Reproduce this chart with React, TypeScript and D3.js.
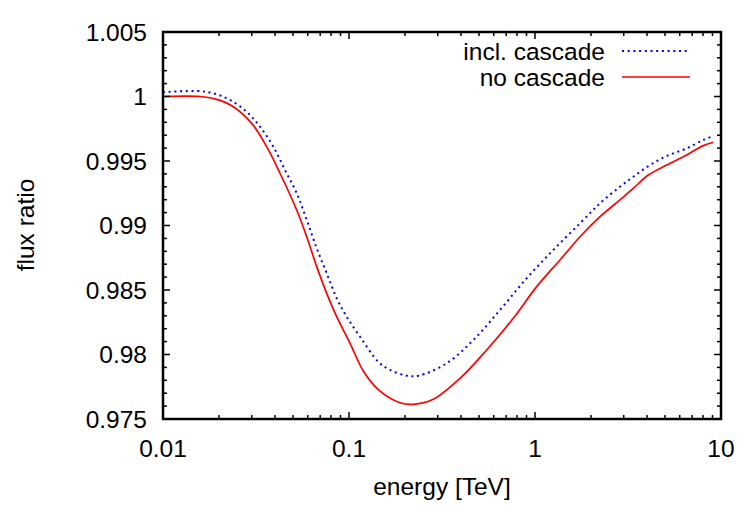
import * as d3 from 'd3';

// energy [TeV] and flux ratio
const cascadeE = [0.01, 0.01518, 0.01864, 0.02292, 0.02818, 0.03323, 0.03918, 0.04529, 0.05234, 0.05924, 0.06706, 0.07589, 0.08588, 0.09718, 0.1146, 0.1437, 0.1661, 0.2042, 0.2358, 0.3352, 0.4659, 0.6483, 0.9024, 1.254, 1.746, 2.236, 2.864, 3.377, 4.153, 5.107, 6.541, 8.031, 9.091];
const cascadeRatio = [1.00033, 1.00043, 1.00025, 0.99973, 0.99882, 0.99766, 0.99611, 0.9943, 0.9925, 0.99043, 0.98823, 0.98629, 0.98436, 0.98293, 0.98138, 0.97944, 0.9788, 0.97836, 0.97835, 0.97932, 0.98112, 0.98345, 0.98591, 0.9881, 0.99017, 0.99172, 0.99301, 0.99378, 0.99469, 0.99539, 0.99598, 0.99663, 0.99694];

const noCascadeE = [0.01, 0.01581, 0.01944, 0.02388, 0.02998, 0.03609, 0.04256, 0.05234, 0.05924, 0.06706, 0.07589, 0.08588, 0.1013, 0.1194, 0.1437, 0.188, 0.2217, 0.2839, 0.3952, 0.5499, 0.7643, 1.021, 1.363, 1.746, 2.236, 2.864, 3.377, 4.065, 5.107, 6.541, 8.031, 9.091];
const noCascadeRatio = [1.0, 1.0, 0.99978, 0.99921, 0.99792, 0.99611, 0.99405, 0.9912, 0.98913, 0.98681, 0.98474, 0.98293, 0.98087, 0.97872, 0.97728, 0.97626, 0.97614, 0.97653, 0.97815, 0.98035, 0.98281, 0.98526, 0.98733, 0.98913, 0.99068, 0.99198, 0.99288, 0.99391, 0.99469, 0.99547, 0.99619, 0.99645];

const yTicks = [0.975, 0.98, 0.985, 0.99, 0.995, 1, 1.005];
const yTickLabels = ['0.975', '0.98', '0.985', '0.99', '0.995', '1', '1.005'];
const xTicks = [0.01, 0.1, 1, 10];
const xTickLabels = ['0.01', '0.1', '1', '10'];

const legend = [
  { label: 'incl. cascade', color: '#0000ff', dash: '2,3.7', x: cascadeE, y: cascadeRatio },
  { label: 'no cascade', color: '#ff0000', dash: null, x: noCascadeE, y: noCascadeRatio },
];

const W = 747;
const H = 523;
const left = 163, right = 721, top = 32, bottom = 419;
const font = '"Liberation Sans", Arial, sans-serif';

export default function App() {
  const x = d3.scaleLog().domain([0.01, 10]).range([left, right]);
  const y = d3.scaleLinear().domain([0.975, 1.005]).range([bottom, top]);

  // minor ticks
  const xMinor: number[] = [];
  for (const dec of [0.01, 0.1, 1]) for (let k = 2; k <= 9; k++) xMinor.push(dec * k);
  const yMinor = d3.range(0, 31).map((i) => 0.975 + i * 0.001).filter((_, i) => i % 5 !== 0);

  const line = (xs: number[], ys: number[]) =>
    d3
      .line<number>()
      .x((_, i) => x(xs[i]))
      .y((d) => y(d))
      .curve(d3.curveCatmullRom.alpha(0.5))(ys) as string;

  return (
    <svg width={W} height={H} style={{ position: 'absolute', left: 0, top: 0, background: '#fff' }} fontFamily={font}>
      <rect width={W} height={H} fill='#fff' />

      {/* curves */}
      {legend.map((s, i) => (
        <path
          key={i}
          d={line(s.x, s.y)}
          fill='none'
          stroke={s.color}
          strokeWidth={s.dash ? 2 : 1.7}
          strokeDasharray={s.dash ?? undefined}
        />
      ))}

      {/* ticks, mirrored on top and right */}
      <g stroke='#000' strokeWidth={1.5}>
        {xTicks.map((t) => (
          <g key={'xt' + t}>
            <line x1={x(t)} x2={x(t)} y1={bottom} y2={bottom - 7} />
            <line x1={x(t)} x2={x(t)} y1={top} y2={top + 7} />
          </g>
        ))}
        {xMinor.map((t) => (
          <g key={'xm' + t}>
            <line x1={x(t)} x2={x(t)} y1={bottom} y2={bottom - 4} />
            <line x1={x(t)} x2={x(t)} y1={top} y2={top + 4} />
          </g>
        ))}
        {yTicks.map((t) => (
          <g key={'yt' + t}>
            <line x1={left} x2={left + 7} y1={y(t)} y2={y(t)} />
            <line x1={right} x2={right - 7} y1={y(t)} y2={y(t)} />
          </g>
        ))}
        {yMinor.map((t) => (
          <g key={'ym' + t}>
            <line x1={left} x2={left + 4} y1={y(t)} y2={y(t)} />
            <line x1={right} x2={right - 4} y1={y(t)} y2={y(t)} />
          </g>
        ))}
      </g>

      {/* frame */}
      <rect x={left} y={top} width={right - left} height={bottom - top} fill='none' stroke='#000' strokeWidth={2.5} />

      {/* tick labels */}
      <g fontSize={24.5} fill='#000'>
        {yTicks.map((t, i) => (
          <text key={'yl' + t} x={147} y={y(t)} textAnchor='end' dominantBaseline='central'>
            {yTickLabels[i]}
          </text>
        ))}
        {xTicks.map((t, i) => (
          <text key={'xl' + t} x={x(t)} y={457} textAnchor='middle'>
            {xTickLabels[i]}
          </text>
        ))}
      </g>

      {/* axis titles */}
      <text x={(left + right) / 2} y={495} textAnchor='middle' fontSize={24.5}>
        energy [TeV]
      </text>
      <text transform='translate(34,225) rotate(-90)' textAnchor='middle' fontSize={24.5}>
        flux ratio
      </text>

      {/* legend */}
      {legend.map((s, i) => {
        const ly = 51 + i * 26;
        return (
          <g key={'lg' + i}>
            <text x={605} y={ly} textAnchor='end' dominantBaseline='central' fontSize={24.5}>
              {s.label}
            </text>
            <line
              x1={622}
              x2={690}
              y1={ly}
              y2={ly}
              stroke={s.color}
              strokeWidth={s.dash ? 2 : 1.7}
              strokeDasharray={s.dash ?? undefined}
            />
          </g>
        );
      })}
    </svg>
  );
}
